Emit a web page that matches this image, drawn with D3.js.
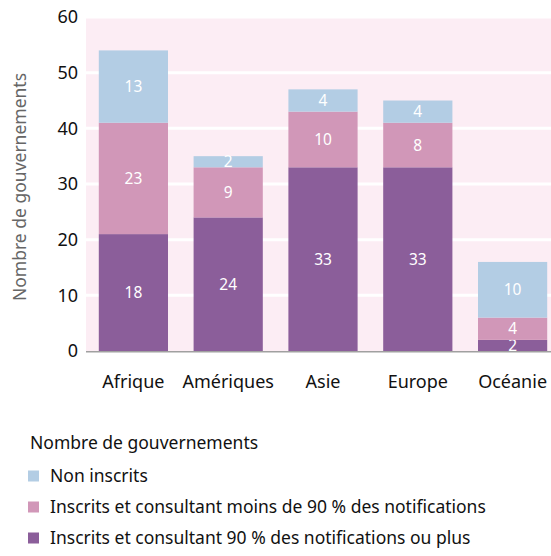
<!DOCTYPE html>
<html>
<head>
<meta charset="utf-8">
<script src="https://cdn.jsdelivr.net/npm/d3@7"></script>
<style>
  body { margin: 0; background: #fff; }
  text { font-family: "Noto Sans", sans-serif; }
</style>
</head>
<body>
<div class="chart"></div>
<script>
var regions = ["Afrique", "Amériques", "Asie", "Europe", "Océanie"];
// segment heights as drawn in the picture
var plus90 = [21, 24, 33, 33, 2];
var moins90 = [20, 9, 10, 8, 4];
var nonInscrits = [13, 2, 4, 4, 10];
// numbers printed in the segments
var plus90Labels = [18, 24, 33, 33, 2];
var moins90Labels = [23, 9, 10, 8, 4];
var nonInscritsLabels = [13, 2, 4, 4, 10];
var seriesNames = ["Inscrits et consultant 90 % des notifications ou plus",
                   "Inscrits et consultant moins de 90 % des notifications",
                   "Non inscrits"];
var seriesColors = ["#8b5e9a", "#d197b8", "#b3cde4"];
var yTicks = [0, 10, 20, 30, 40, 50, 60];

var width = 551, height = 556;
var labelSets = [plus90Labels, moins90Labels, nonInscritsLabels];

var svg = d3.select(".chart").append("svg")
    .attr("width", width)
    .attr("height", height);

var rows = regions.map(function(r, i) {
  return {region: r, idx: i, s0: plus90[i], s1: moins90[i], s2: nonInscrits[i]};
});
var stack = d3.stack().keys(["s0", "s1", "s2"]);
var layers = stack(rows);

var x = d3.scaleBand()
    .domain(regions)
    .range([86, 560])
    .paddingInner(0.27)
    .paddingOuter(0.135);

var y = d3.scaleLinear()
    .domain([0, 60])
    .range([351, 17]);

// plot background
svg.append("rect")
    .attr("x", 86)
    .attr("y", y(60))
    .attr("width", width - 86)
    .attr("height", y(0) - y(60))
    .attr("fill", "#fcedf4");

// gridlines
svg.selectAll(".grid")
    .data(yTicks.filter(function(d) { return d > 0; }))
    .enter().append("line")
    .attr("x1", 86)
    .attr("x2", width)
    .attr("y1", function(d) { return y(d); })
    .attr("y2", function(d) { return y(d); })
    .attr("stroke", "#fff")
    .attr("stroke-width", 3);

// bars
var layer = svg.selectAll(".layer")
    .data(layers)
    .enter().append("g")
    .attr("fill", function(d, i) { return seriesColors[i]; });

layer.selectAll("rect")
    .data(function(d) { return d; })
    .enter().append("rect")
    .attr("x", function(d) { return x(d.data.region); })
    .attr("y", function(d) { return y(d[1]); })
    .attr("width", x.bandwidth())
    .attr("height", function(d) { return y(d[0]) - y(d[1]); });

// value labels
layer.each(function(l, li) {
  d3.select(this).selectAll("text")
    .data(l)
    .enter().append("text")
    .attr("x", function(d) { return x(d.data.region) + x.bandwidth() / 2; })
    .attr("y", function(d) { return (y(d[0]) + y(d[1])) / 2; })
    .attr("dy", "0.36em")
    .attr("text-anchor", "middle")
    .attr("fill", "#fff")
    .attr("font-size", "15.5px")
    .text(function(d) { return labelSets[li][d.data.idx]; });
});

// baseline
svg.append("line")
    .attr("x1", 86)
    .attr("x2", width)
    .attr("y1", y(0) + 0.8)
    .attr("y2", y(0) + 0.8)
    .attr("stroke", "#a0a0a0")
    .attr("stroke-width", 1.6);

// y axis
var yAxis = svg.append("g")
    .attr("transform", "translate(86,0)")
    .call(d3.axisLeft(y).tickValues(yTicks).tickSize(0).tickPadding(8));
yAxis.select(".domain").remove();
yAxis.selectAll("text")
    .attr("font-size", "18px")
    .attr("fill", "#111")
    .style("font-family", "'Noto Sans', sans-serif");

// x axis
var xAxis = svg.append("g")
    .attr("transform", "translate(0," + y(0) + ")")
    .call(d3.axisBottom(x).tickSize(0).tickPadding(24));
xAxis.select(".domain").remove();
xAxis.selectAll("text")
    .attr("font-size", "18px")
    .attr("fill", "#111")
    .style("font-family", "'Noto Sans', sans-serif");

// y title
svg.append("text")
    .attr("transform", "translate(20,187) rotate(-90)")
    .attr("text-anchor", "middle")
    .attr("dy", "0.35em")
    .attr("font-size", "17.5px")
    .attr("fill", "#666")
    .text("Nombre de gouvernements");

// legend
svg.append("text")
    .attr("x", 30)
    .attr("y", 449)
    .attr("font-size", "17.5px")
    .attr("fill", "#111")
    .text("Nombre de gouvernements");

var legendOrder = [2, 1, 0];
var legend = svg.selectAll(".legend")
    .data(legendOrder)
    .enter().append("g")
    .attr("transform", function(d, n) { return "translate(28," + (476 + n * 31) + ")"; });

legend.append("rect")
    .attr("x", 0)
    .attr("y", -5.5)
    .attr("width", 11)
    .attr("height", 11)
    .attr("fill", function(d) { return seriesColors[d]; });

legend.append("text")
    .attr("x", 22)
    .attr("y", 0)
    .attr("dy", "0.35em")
    .attr("font-size", "17.5px")
    .attr("fill", "#111")
    .text(function(d) { return seriesNames[d]; });
</script>
</body>
</html>
